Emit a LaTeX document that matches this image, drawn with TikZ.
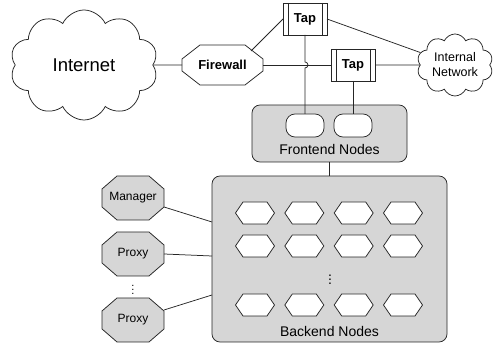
\documentclass[tikz,border=0pt]{standalone}
\usepackage{fontspec}
\setmainfont{Liberation Sans}
\usetikzlibrary{shapes.symbols,shapes.misc,calc}

% A box with cut-off corners: octagons and, with a deep vertical cut, hexagons
\makeatletter
\pgfkeys{/pgf/octo cut x/.initial=5pt,/pgf/octo cut y/.initial=5pt}
\pgfdeclareshape{octo}{
  \inheritsavedanchors[from=rectangle]
  \inheritanchorborder[from=rectangle]
  \inheritanchor[from=rectangle]{center}
  \inheritanchor[from=rectangle]{mid}
  \inheritanchor[from=rectangle]{base}
  \inheritanchor[from=rectangle]{north}
  \inheritanchor[from=rectangle]{south}
  \inheritanchor[from=rectangle]{east}
  \inheritanchor[from=rectangle]{west}
  \inheritanchor[from=rectangle]{north east}
  \inheritanchor[from=rectangle]{north west}
  \inheritanchor[from=rectangle]{south east}
  \inheritanchor[from=rectangle]{south west}
  \backgroundpath{%
    \pgfmathsetlengthmacro\oc@x{\pgfkeysvalueof{/pgf/octo cut x}}%
    \pgfmathsetlengthmacro\oc@y{\pgfkeysvalueof{/pgf/octo cut y}}%
    \southwest \edef\oc@l{\the\pgf@x}\edef\oc@b{\the\pgf@y}%
    \northeast \edef\oc@r{\the\pgf@x}\edef\oc@t{\the\pgf@y}%
    \pgfpathmoveto{\pgfpoint{\oc@l+\oc@x}{\oc@t}}%
    \pgfpathlineto{\pgfpoint{\oc@r-\oc@x}{\oc@t}}%
    \pgfpathlineto{\pgfpoint{\oc@r}{\oc@t-\oc@y}}%
    \pgfpathlineto{\pgfpoint{\oc@r}{\oc@b+\oc@y}}%
    \pgfpathlineto{\pgfpoint{\oc@r-\oc@x}{\oc@b}}%
    \pgfpathlineto{\pgfpoint{\oc@l+\oc@x}{\oc@b}}%
    \pgfpathlineto{\pgfpoint{\oc@l}{\oc@b+\oc@y}}%
    \pgfpathlineto{\pgfpoint{\oc@l}{\oc@t-\oc@y}}%
    \pgfpathclose
  }
}
\makeatother

\definecolor{boxgray}{HTML}{D6D6D6}
\definecolor{ink}{HTML}{262626}

\tikzset{
  x=1pt, y=1pt,
  every path/.style={line width=0.75pt},
  wire/.style={draw=ink},
  netcloud/.style={cloud, cloud puffs=10, cloud puff arc=130, cloud ignores aspect,
    draw=ink, fill=white, inner sep=0pt, align=center},
  octbox/.style={octo, draw=ink, outer sep=0pt, inner sep=0pt},
  tapbox/.style={rectangle, draw=ink, fill=white, minimum width=44pt, minimum height=32pt,
    inner sep=0pt, outer sep=0pt, font=\bfseries\fontsize{13}{15}\selectfont,
    path picture={
      \draw[ink] ([xshift=5pt]path picture bounding box.north west) -- ([xshift=5pt]path picture bounding box.south west);
      \draw[ink] ([xshift=-5pt]path picture bounding box.north east) -- ([xshift=-5pt]path picture bounding box.south east);
    }},
  grpbox/.style={rectangle, rounded corners=8pt, draw=ink, fill=boxgray, outer sep=0pt},
  pill/.style={rectangle, rounded corners=9pt, draw=ink, fill=white,
    minimum width=38pt, minimum height=23pt, outer sep=0pt},
  hexa/.style={octbox, fill=white, minimum width=39pt, minimum height=22pt,
    octo cut x=7.5pt, octo cut y=11pt},
  sidebox/.style={octbox, fill=boxgray, minimum width=62pt, minimum height=44pt,
    octo cut x=15pt, octo cut y=13pt, font=\fontsize{12}{14}\selectfont},
  grplabel/.style={font=\fontsize{14}{16}\selectfont, inner sep=0pt},
}

\begin{document}
\begin{tikzpicture}
\useasboundingbox (0,0) rectangle (496,344);

% outside world and perimeter
\node[netcloud, minimum width=148pt, minimum height=110pt,
  font=\fontsize{18.5}{20}\selectfont] (inet) at (84,279) {Internet};
\node[octbox, fill=white, minimum width=81pt, minimum height=40pt,
  octo cut x=18pt, octo cut y=14pt,
  font=\bfseries\fontsize{13}{15}\selectfont] (fw) at (222.5,279) {Firewall};
\node[tapbox] (tapa) at (305,325) {Tap};
\node[tapbox] (tapb) at (353,279) {Tap};
\node[netcloud, minimum width=76pt, minimum height=62pt,
  font=\fontsize{12.5}{15}\selectfont] (lan) at (455,279) {Internal\\Network};

% frontend group
\node[grpbox, minimum width=155pt, minimum height=57pt] (fe) at (329.5,210.5) {};
\node[pill] (pla) at (305,218.5) {};
\node[pill] (plb) at (353,218.5) {};
\node[grplabel] (felab) at (329.5,194) {Frontend Nodes};

% backend group
\node[grpbox, minimum width=235pt, minimum height=166pt] (be) at (329.5,85) {};
\foreach \cx [count=\i] in {255,304.3,353.7,403}
  \foreach \cy [count=\j] in {131,98,39}
    \node[hexa] (hx\j\i) at (\cx,\cy) {};
\node[font=\fontsize{14}{16}\selectfont, inner sep=0pt] (bedots) at (330,67) {$\vdots$};
\node[grplabel] (belab) at (329.5,12) {Backend Nodes};

% management side
\node[sidebox] (mgr) at (133,146) {Manager};
\node[sidebox] (pxa) at (133,90) {Proxy};
\node[font=\fontsize{11}{13}\selectfont, inner sep=0pt] (pxdots) at (133,57) {$\vdots$};
\node[sidebox] (pxb) at (133,24) {Proxy};

% connectors
\draw[wire] (inet) -- (fw.west);
\draw[wire] (fw.east) -- (tapb.west);
\draw[wire] (tapb) -- (lan);
\draw[wire] (tapa.east) -- (lan);
\draw[wire] (tapa.west) -- ($(fw.north east)+(-12,-6)$);
\draw[wire] (tapa.south) -- ($(tapa.south |- fw.east)+(0,3)$)
  arc[start angle=90, end angle=-90, radius=3pt] -- (pla.north);
\draw[wire] (tapb.south) -- (plb.north);
\draw[wire] (fe.south) -- (be.north);
\draw[wire] ([yshift=-9pt]mgr.east) -- ([yshift=37pt]be.west);
\draw[wire] (pxa.east) -- ([yshift=3pt]be.west);
\draw[wire] ([yshift=10pt]pxb.east) -- ([yshift=-36pt]be.west);
\end{tikzpicture}
\end{document}
